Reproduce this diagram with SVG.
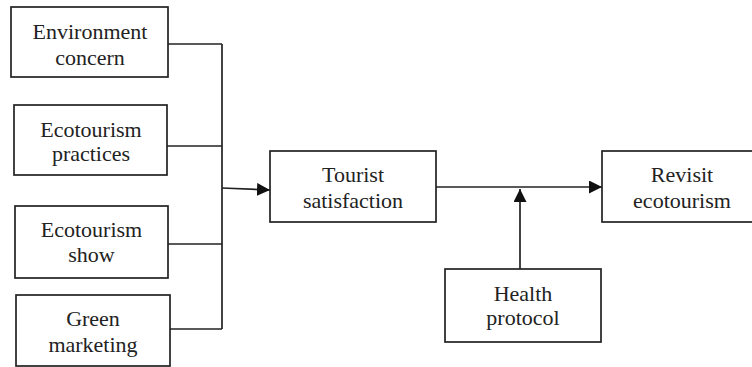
<svg xmlns="http://www.w3.org/2000/svg" width="752" height="367" viewBox="0 0 752 367">
<style>
rect{fill:#fff;stroke:#222;stroke-width:1.7}
text{font-size:22px;fill:#222;text-anchor:middle}
.c line{stroke:#222;stroke-width:1.7}
</style>
<defs>
<marker id="ah" viewBox="0 0 13 13" refX="13" refY="6.5" markerWidth="13" markerHeight="13" markerUnits="userSpaceOnUse" orient="auto">
<path d="M0,0L13,6.5L0,13Z" fill="#111"/>
</marker>
</defs>
<rect x="0" y="0" width="752" height="367" style="stroke:none"/>
<g class="c" id="connectors">
<line x1="168" y1="44" x2="222" y2="44"/>
<line x1="167" y1="146" x2="222" y2="146"/>
<line x1="168" y1="244" x2="222" y2="244"/>
<line x1="170" y1="329" x2="222" y2="329"/>
<line x1="222" y1="44" x2="222" y2="329"/>
<line x1="222" y1="188" x2="270" y2="190" marker-end="url(#ah)"/>
<line x1="436" y1="187" x2="602" y2="187" marker-end="url(#ah)"/>
<line x1="520" y1="269" x2="520" y2="189" marker-end="url(#ah)"/>
</g>
<g font-family="'Liberation Serif', 'DejaVu Serif', serif">
<g id="env"><rect x="11" y="7" width="157" height="70"/><text x="90" y="39">Environment</text><text x="90" y="65">concern</text></g>
<g id="practices"><rect x="14" y="105" width="153" height="70"/><text x="91" y="137">Ecotourism</text><text x="91" y="161">practices</text></g>
<g id="show"><rect x="15" y="206" width="153" height="72"/><text x="91.5" y="237">Ecotourism</text><text x="91.5" y="262">show</text></g>
<g id="green"><rect x="16" y="295" width="154" height="71"/><text x="93" y="326">Green</text><text x="93" y="352">marketing</text></g>
<g id="tourist"><rect x="270" y="151" width="166" height="71"/><text x="353" y="182">Tourist</text><text x="353" y="208">satisfaction</text></g>
<g id="revisit"><rect x="602" y="151" width="162" height="71"/><text x="682" y="182">Revisit</text><text x="682" y="208">ecotourism</text></g>
<g id="health"><rect x="445" y="269" width="156" height="73"/><text x="523" y="301">Health</text><text x="523" y="325">protocol</text></g>
</g>
</svg>
